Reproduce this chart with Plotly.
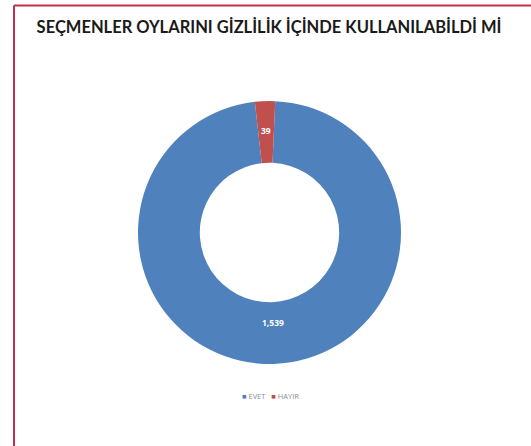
import math
import plotly.graph_objects as go

# Survey answers: could voters cast their ballots in secrecy?
labels = ["EVET", "HAYIR"]
values = [1539, 39]
colors = ["#4f81bd", "#c0504d"]

W, H = 531, 446
title_text = "SEÇMENLER OYLARINI GİZLİLİK İÇİNDE KULLANILABİLDİ Mİ"

# pie placement (pixels) and ring geometry
left, right, top, bottom = 137, 402, 101, 364
hole = 0.53
rotation = 2.5  # degrees, clockwise from 12 o'clock

fig = go.Figure(
    go.Pie(
        labels=labels,
        values=values,
        hole=hole,
        sort=False,
        direction="clockwise",
        rotation=rotation,
        marker=dict(colors=colors, line=dict(width=0)),
        textinfo="none",
        domain=dict(x=[left / W, right / W], y=[1 - bottom / H, 1 - top / H]),
        hoverinfo="label+value+percent",
        showlegend=False,
    )
)

# value labels placed in the ring at each slice's mid-angle
cx, cy = (left + right) / 2, (top + bottom) / 2
R = min(right - left, bottom - top) / 2
r_lab = R * 0.73
total = sum(values)
annotations = []
cum = 0
for lab, v in zip(labels, values):
    mid = rotation + (cum + v / 2) / total * 360
    cum += v
    a = math.radians(mid)
    px = cx + r_lab * math.sin(a)
    py = cy - r_lab * math.cos(a)
    annotations.append(dict(
        x=px / W, y=1 - py / H, xref="paper", yref="paper",
        text=f"{v:,}", showarrow=False, xanchor="center", yanchor="middle",
        yshift=6,
        font=dict(family="Open Sans", size=8.5, color="white", weight="bold"),
    ))

# legend line: coloured squares followed by category names
legend_text = "&nbsp;&nbsp;&nbsp;".join(
    f"<span style='color:{c}'>■</span> {lab}" for lab, c in zip(labels, colors)
)
annotations.append(dict(
    x=270 / W, y=1 - 396 / H, xref="paper", yref="paper",
    text=legend_text, showarrow=False, xanchor="center", yanchor="middle",
    font=dict(family="Open Sans", size=7.5, color="#8c8c8c"),
))

border = "#c0304f"
fig.update_layout(
    width=W,
    height=H,
    margin=dict(l=0, r=0, t=0, b=0),
    paper_bgcolor="white",
    plot_bgcolor="white",
    title=dict(
        text=title_text,
        x=269 / W,
        xanchor="center",
        y=1 - 27 / H,
        yanchor="middle",
        font=dict(family="Lato", size=16.5, color="#1a1a1a", weight="bold"),
    ),
    annotations=annotations,
    shapes=[
        dict(type="line", xref="paper", yref="paper",
             x0=14 / W, x1=1.01, y0=1 - 5.5 / H, y1=1 - 5.5 / H,
             line=dict(color=border, width=2)),
        dict(type="line", xref="paper", yref="paper",
             x0=14 / W, x1=14 / W, y0=1 - 5.5 / H, y1=-0.01,
             line=dict(color=border, width=2)),
    ],
)

fig.write_html("out.html")
